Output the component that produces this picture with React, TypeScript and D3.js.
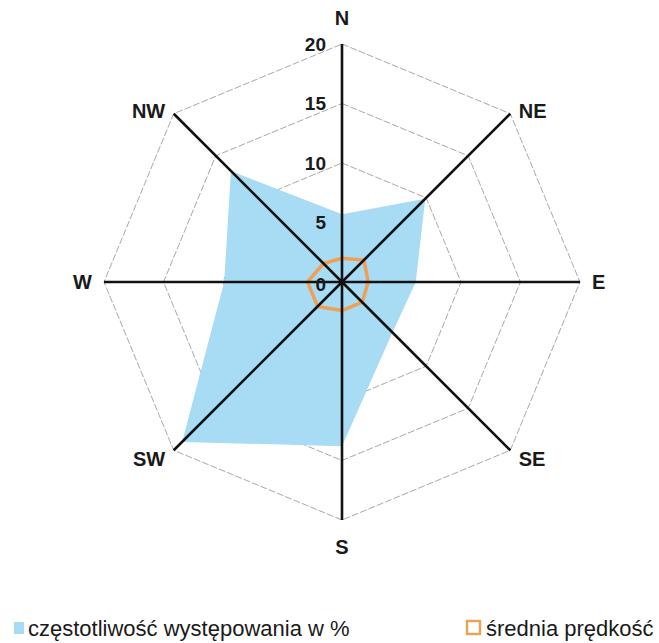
import * as d3 from 'd3';

// kierunki wiatru
const directions = ['N', 'NE', 'E', 'SE', 'S', 'SW', 'W', 'NW'];
// częstotliwość występowania w %
const frequency = [5.7, 9.9, 6.2, 6.0, 13.8, 19.0, 9.9, 13.2];
// średnia prędkość
const speed = [2.0, 2.6, 2.2, 2.4, 2.4, 2.9, 2.9, 2.2];
const ticks = [0, 5, 10, 15, 20];

const WIDTH = 659;
const HEIGHT = 643;
const CX = 342;
const CY = 282;
const R = 238;

const FONT = 'Liberation Sans, Arial, sans-serif';

const App = () => {
  const rScale = d3.scaleLinear().domain([0, 20]).range([0, R]);
  const angle = d3
    .scalePoint<string>()
    .domain(directions)
    .range([0, (2 * Math.PI * 7) / 8]);

  const radar = d3
    .lineRadial<number>()
    .angle((_, i) => angle(directions[i]) ?? 0)
    .radius((d) => rScale(d))
    .curve(d3.curveLinearClosed);

  const xy = (dir: string, v: number) => {
    const a = angle(dir) ?? 0;
    return [Math.sin(a) * rScale(v), -Math.cos(a) * rScale(v)];
  };

  // label placement around the outer ring
  const labelPos = (dir: string) => {
    const [x, y] = xy(dir, 20);
    const a = angle(dir) ?? 0;
    const s = Math.sin(a);
    const c = Math.cos(a);
    let anchor = 'middle';
    if (s > 0.1) anchor = 'start';
    if (s < -0.1) anchor = 'end';
    let dx = 0;
    let dy = 0;
    if (Math.abs(s) > 0.9) dx = s * 12;
    else if (Math.abs(s) > 0.1) {
      dx = s * 12;
      dy = c > 0 ? -3 : 9;
    } else dy = c > 0 ? -26 : 27;
    return { x: x + dx, y: y + dy, anchor };
  };

  return (
    <svg
      width={WIDTH}
      height={HEIGHT}
      style={{ position: 'absolute', left: 0, top: 0, background: '#fff' }}
    >
      <g transform={`translate(${CX},${CY})`}>
        {/* rings */}
        {ticks.slice(1).map((t) => (
          <path
            key={t}
            d={radar(directions.map(() => t)) || ''}
            fill="none"
            stroke="#a8a8a8"
            strokeWidth={1}
            strokeDasharray="7,2"
          />
        ))}

        {/* frequency area */}
        <path d={radar(frequency) || ''} fill="#a7dcf4" stroke="none" />

        {/* mean speed */}
        <path
          d={radar(speed) || ''}
          fill="none"
          stroke="#f0a054"
          strokeWidth={3.5}
          strokeLinejoin="round"
        />

        {/* axes */}
        {directions.map((d) => {
          const [x, y] = xy(d, 20);
          return (
            <line key={d} x1={0} y1={0} x2={x} y2={y} stroke="#111" strokeWidth={2.6} />
          );
        })}

        {/* tick labels */}
        {ticks.map((t) => (
          <text
            key={t}
            x={-16}
            y={-rScale(t) + (t === 0 ? 2 : 0)}
            textAnchor="end"
            dominantBaseline="central"
            fontFamily={FONT}
            fontWeight="bold"
            fontSize={19}
            fill="#1a1a1a"
          >
            {t}
          </text>
        ))}

        {/* direction labels */}
        {directions.map((d) => {
          const p = labelPos(d);
          return (
            <text
              key={d}
              x={p.x}
              y={p.y}
              textAnchor={p.anchor}
              dominantBaseline="central"
              fontFamily={FONT}
              fontWeight="bold"
              fontSize={20}
              fill="#1a1a1a"
            >
              {d}
            </text>
          );
        })}
      </g>

      {/* legend */}
      <rect x={14} y={622} width={10} height={12} fill="#a7dcf4" />
      <text x={28} y={636} fontFamily={FONT} fontSize={22} fill="#1a1a1a">
        częstotliwość występowania w %
      </text>
      <rect
        x={467}
        y={621}
        width={13}
        height={13}
        fill="none"
        stroke="#f0a054"
        strokeWidth={2.4}
      />
      <text x={486} y={636} fontFamily={FONT} fontSize={22} fill="#1a1a1a">
        średnia prędkość
      </text>
    </svg>
  );
};

export default App;
